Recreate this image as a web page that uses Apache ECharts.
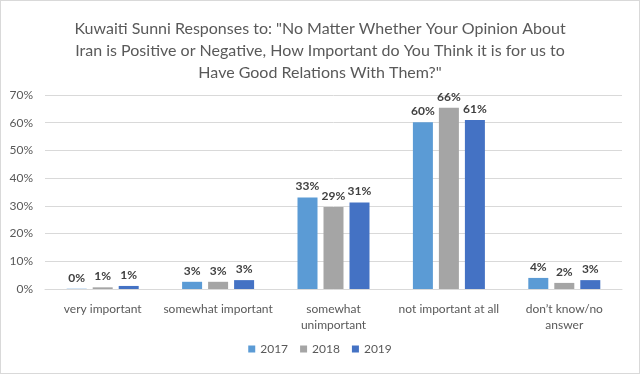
<!DOCTYPE html>
<html><head><meta charset="utf-8">
<script src="https://cdn.jsdelivr.net/npm/echarts@6/dist/echarts.min.js"></script>
<style>html,body{margin:0;padding:0;background:#fff}#c{width:640px;height:374px;box-sizing:border-box;border:1px solid #d9d9d9}</style>
</head><body><div id="c"></div>
<script>
const categories = ['very important', 'somewhat important', 'somewhat\nunimportant', 'not important at all', 'don\u2019t know/no\nanswer'];
const seriesNames = ['2017', '2018', '2019'];
const v2017 = [0.1, 2.6, 33.0, 60.2, 4.0];
const v2018 = [0.6, 2.6, 29.6, 65.4, 2.2];
const v2019 = [1.1, 3.2, 31.2, 61.0, 3.2];
const labels2017 = ['0%', '3%', '33%', '60%', '4%'];
const labels2018 = ['1%', '3%', '29%', '66%', '2%'];
const labels2019 = ['1%', '3%', '31%', '61%', '3%'];
const yTicks = [0, 10, 20, 30, 40, 50, 60, 70];
const titleText = 'Kuwaiti Sunni Responses to: "No Matter Whether Your Opinion About\nIran is Positive or Negative, How Important do You Think it is for us to\nHave Good Relations With Them?"';

const colors = ['#5B9BD5', '#A5A5A5', '#4472C4'];
const font = 'Lato, "Open Sans", sans-serif';
function mk(name, data, lbls, color) {
  return {
    name, type: 'bar', data, barWidth: 20, barGap: '30%',
    itemStyle: { color },
    label: { show: true, position: 'top', distance: 5, color: '#404040', fontWeight: 'bold', fontSize: 12, fontFamily: font,
      formatter: p => lbls[p.dataIndex] }
  };
}
const chart = echarts.init(document.getElementById('c'));
chart.setOption({
  animation: false,
  textStyle: { fontFamily: font },
  title: { text: titleText, left: 'center', top: 12,
    textStyle: { fontSize: 16, fontWeight: 'normal', color: '#595959', lineHeight: 22, fontFamily: font } },
  legend: { bottom: 13, left: 'center', itemWidth: 7, itemHeight: 7, itemGap: 12, icon: 'rect',
    textStyle: { color: '#595959', fontSize: 12, fontFamily: font }, data: seriesNames },
  grid: { left: 44, right: 17, top: 94, bottom: 84 },
  xAxis: { type: 'category', data: categories,
    axisLine: { lineStyle: { color: '#d9d9d9' } }, axisTick: { show: false },
    axisLabel: { color: '#595959', fontSize: 12, fontFamily: font, margin: 12, lineHeight: 16, interval: 0 } },
  yAxis: { type: 'value', min: 0, max: 70, interval: 10,
    axisLabel: { color: '#595959', fontSize: 12, fontFamily: font, formatter: v => yTicks.includes(v) ? v + '%' : '', margin: 12 },
    splitLine: { lineStyle: { color: '#d9d9d9' } }, axisLine: { show: false } },
  series: [mk(seriesNames[0], v2017, labels2017, colors[0]), mk(seriesNames[1], v2018, labels2018, colors[1]), mk(seriesNames[2], v2019, labels2019, colors[2])]
});
</script></body></html>
